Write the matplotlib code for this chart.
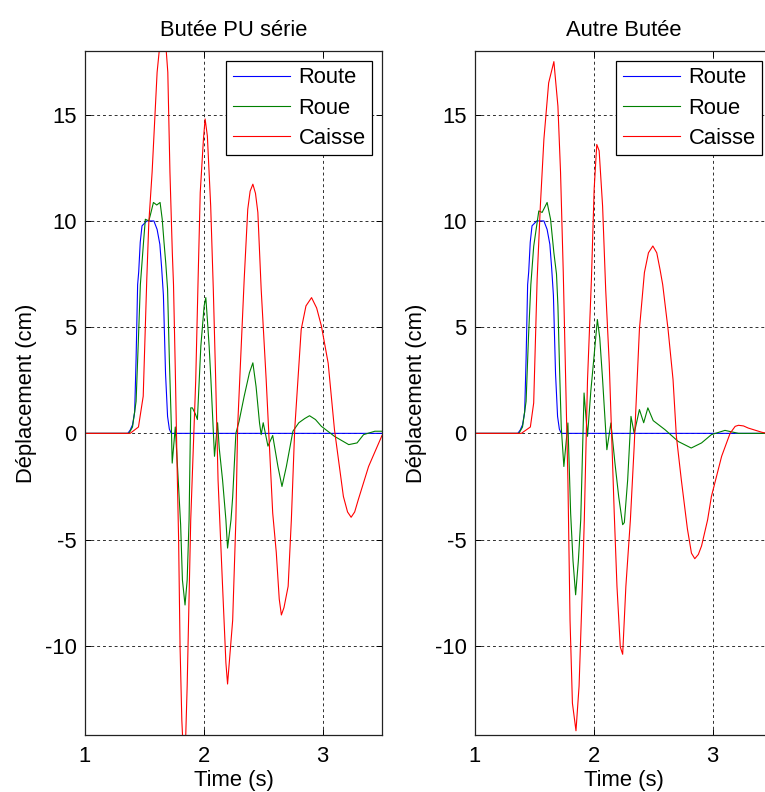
import matplotlib
matplotlib.use('Agg')
import matplotlib.pyplot as plt

plt.rcParams['font.family'] = ['Liberation Sans', 'DejaVu Sans']
plt.rcParams['font.size'] = 15.8
plt.rcParams['axes.unicode_minus'] = False

# Route (road input), same for both cases
t_route = [1.0, 1.36, 1.38, 1.40, 1.418, 1.43, 1.443, 1.452, 1.465, 1.48, 1.52,
           1.58, 1.607, 1.63, 1.645, 1.66, 1.678, 1.695, 1.71, 1.726, 3.5]
route = [0, 0, 0.15, 0.4, 1.0, 3.5, 7.0, 7.6, 9.0, 9.77, 10.0,
         10.0, 9.6, 8.9, 7.8, 6.5, 2.8, 0.8, 0.2, 0, 0]

# Left: Butée PU série
t_roue_a = [1.0, 1.37, 1.40, 1.43, 1.45, 1.466, 1.494, 1.508, 1.537, 1.551, 1.576,
            1.604, 1.632, 1.65, 1.665, 1.68, 1.695, 1.71, 1.727, 1.734, 1.76,
            1.776, 1.805, 1.82, 1.842, 1.86, 1.876, 1.89, 1.904, 1.93, 1.946,
            1.975, 2.003, 2.017, 2.03, 2.045, 2.06, 2.09, 2.116, 2.13, 2.158,
            2.186, 2.2, 2.229, 2.243, 2.27, 2.297, 2.34, 2.384, 2.413, 2.44,
            2.469, 2.483, 2.50, 2.54, 2.58, 2.624, 2.658, 2.695, 2.75, 2.80,
            2.85, 2.89, 2.94, 2.99, 3.10, 3.22, 3.29, 3.345, 3.44, 3.5]
roue_a = [0, 0, 0.3, 1.5, 4.5, 7.0, 9.1, 10.08, 10.0, 10.3, 10.87,
          10.75, 10.87, 10.08, 9.0, 8.0, 6.8, 3.5, 0.3, -1.4, 0.3,
          -1.3, -4.3, -6.9, -8.08, -6.9, -4.07, 1.2, 1.2, 0.9, 0.65,
          4.1, 6.0, 6.39, 5.36, 4.1, 2.5, -1.08, 0.5, -0.7, -2.2,
          -4.07, -5.4, -4.07, -3.0, 0.0, 0.57, 1.75, 2.85, 3.32, 2.2,
          0.49, -0.06, 0.5, -0.6, -0.1, -1.56, -2.5, -1.56, 0.1, 0.5,
          0.7, 0.83, 0.65, 0.33, -0.14, -0.53, -0.45, -0.06, 0.1, 0.1]

t_caisse_a = [1.0, 1.38, 1.45, 1.49, 1.52, 1.537, 1.565, 1.607, 1.63, 1.66, 1.68,
              1.697, 1.715, 1.735, 1.745, 1.76, 1.775, 1.788, 1.80, 1.815, 1.83,
              1.845, 1.86, 1.89, 1.932, 1.952, 1.97, 1.997, 2.011, 2.03, 2.058,
              2.08, 2.10, 2.12, 2.158, 2.186, 2.2, 2.243, 2.27, 2.285, 2.34,
              2.37, 2.39, 2.413, 2.435, 2.455, 2.483, 2.525, 2.58, 2.61, 2.635,
              2.653, 2.675, 2.71, 2.737, 2.765, 2.82, 2.86, 2.907, 2.95, 2.99,
              3.047, 3.1, 3.175, 3.21, 3.24, 3.27, 3.30, 3.387, 3.5]
caisse_a = [0, 0, 0.3, 1.75, 7.25, 9.9, 12.3, 17.0, 18.3, 18.9, 18.3,
            17.0, 12.3, 8.5, 7.0, 3.0, -1.5, -5.0, -10.0, -13.5, -15.3,
            -14.8, -11.9, -4.07, 2.5, 7.25, 11.34, 13.85, 14.8, 14.0, 10.7,
            6.78, 2.53, -2.2, -7.2, -10.8, -11.8, -8.8, -4.07, 0.33, 7.25,
            10.55, 11.4, 11.73, 11.3, 10.4, 6.78, 2.53, -3.75, -5.6, -7.8,
            -8.55, -8.2, -7.2, -4.07, 0.17, 4.9, 6.0, 6.39, 5.9, 5.05,
            3.3, 0.17, -2.97, -3.7, -3.95, -3.7, -3.13, -1.56, -0.1]

# Right: Autre Butée
t_roue_b = [1.0, 1.37, 1.40, 1.43, 1.45, 1.47, 1.494, 1.537, 1.565, 1.607, 1.636,
            1.664, 1.686, 1.698, 1.712, 1.726, 1.748, 1.782, 1.805, 1.825, 1.847,
            1.87, 1.89, 1.918, 1.947, 1.975, 2.00, 2.03, 2.05, 2.074, 2.11,
            2.144, 2.178, 2.21, 2.243, 2.257, 2.285, 2.313, 2.34, 2.384, 2.42,
            2.455, 2.5, 2.6, 2.71, 2.82, 2.907, 2.99, 3.104, 3.218, 3.45, 3.5]
roue_b = [0, 0, 0.3, 1.5, 4.5, 7.0, 8.8, 10.47, 10.4, 10.87, 10.08,
          8.5, 7.5, 6.0, 3.0, 0.3, -1.56, 0.49, -3.75, -6.0, -7.6,
          -6.0, -4.07, 1.9, -0.14, 2.0, 3.5, 5.36, 4.5, 2.53, -0.77,
          0.49, -1.4, -3.0, -4.3, -4.2, -2.2, 0.8, 0.0, 1.12, 0.5,
          1.2, 0.6, 0.17, -0.38, -0.69, -0.45, -0.06, 0.14, 0.0, 0.0, 0.0]

t_caisse_b = [1.0, 1.39, 1.466, 1.494, 1.523, 1.55, 1.58, 1.62, 1.664, 1.698, 1.72,
              1.743, 1.782, 1.80, 1.82, 1.85, 1.876, 1.904, 1.92, 1.947, 1.98,
              2.003, 2.025, 2.045, 2.074, 2.10, 2.13, 2.172, 2.195, 2.223, 2.243,
              2.27, 2.308, 2.34, 2.384, 2.426, 2.46, 2.497, 2.53, 2.558, 2.58,
              2.625, 2.667, 2.695, 2.737, 2.788, 2.822, 2.85, 2.88, 2.907, 2.958,
              2.99, 3.076, 3.147, 3.19, 3.218, 3.26, 3.30, 3.415, 3.46, 3.5]
caisse_b = [0, 0, 0.3, 1.43, 7.25, 10.7, 13.85, 16.5, 17.5, 15.4, 12.3,
            7.57, -2.2, -8.8, -12.7, -14.0, -11.9, -7.2, -4.07, 2.5, 7.25,
            11.5, 13.6, 13.3, 10.7, 6.78, 3.3, -3.75, -7.2, -10.05, -10.4,
            -7.2, -4.07, -0.6, 4.9, 7.57, 8.5, 8.82, 8.5, 7.7, 7.0,
            4.9, 2.53, -0.14, -2.2, -4.5, -5.64, -5.9, -5.7, -5.3, -4.07,
            -2.97, -1.08, 0.0, 0.33, 0.38, 0.35, 0.25, 0.05, 0.0, 0.0]

titles = ['Butée PU série', 'Autre Butée']
labels = ['Route', 'Roue', 'Caisse']
colors = ['#0000ff', '#008000', '#ff0000']

W, H = 765, 792
fig = plt.figure(figsize=(W / 100, H / 100), dpi=100)

panels = [
    (85, titles[0], [(t_route, route), (t_roue_a, roue_a), (t_caisse_a, caisse_a)]),
    (475, titles[1], [(t_route, route), (t_roue_b, roue_b), (t_caisse_b, caisse_b)]),
]

for left_px, title, series in panels:
    # the right panel runs past the image edge, as in the original figure
    ax = fig.add_axes([left_px / W, (H - 735) / H, 297 / W, 684 / H])
    for (t, y), lab, c in zip(series, labels, colors):
        ax.plot(t, y, color=c, lw=0.8, label=lab)
    ax.set_xlim(1, 3.5)
    ax.set_ylim(-14.2, 18)
    ax.set_xticks([1, 2, 3])
    ax.set_yticks([-10, -5, 0, 5, 10, 15])
    ax.grid(True, color='#303030', linestyle=(0, (3, 3)), linewidth=0.7)
    ax.tick_params(direction='in', length=4, width=0.7, top=True, right=True)
    ax.tick_params(axis='x', pad=8)
    ax.tick_params(axis='y', pad=6)
    for sp in ax.spines.values():
        sp.set_color('#222222')
        sp.set_linewidth(0.9)
    ax.set_xlabel('Time (s)', labelpad=2)
    ax.set_ylabel('Déplacement (cm)')
    ax.yaxis.set_label_coords(-0.162, 0.5)
    ax.set_title(title, pad=11, fontsize=15.8)
    leg = ax.legend(loc='upper right', fontsize=15.8, fancybox=False,
                    edgecolor='black', framealpha=1, handlelength=2.6,
                    labelspacing=0.42, borderaxespad=0.45, borderpad=0.3,
                    handletextpad=0.4)
    leg.get_frame().set_linewidth(0.9)

fig.savefig('out.png', dpi=100)
